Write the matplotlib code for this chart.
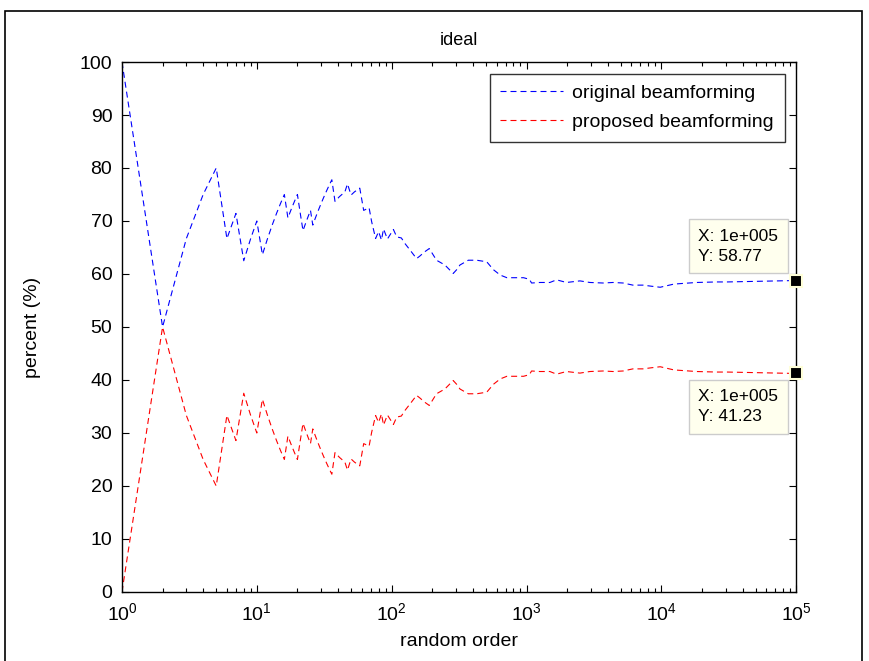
import numpy as np
import matplotlib
matplotlib.use("Agg")
import matplotlib.pyplot as plt
from matplotlib.patches import Rectangle

plt.rcParams['font.family'] = ['Liberation Sans', 'DejaVu Sans']
plt.rcParams['mathtext.fontset'] = 'custom'
plt.rcParams['mathtext.rm'] = 'Liberation Sans'
plt.rcParams['lines.scale_dashes'] = False

# random order index (x) and percentages
order = [1, 2, 3, 4, 5, 6, 7, 8, 9, 10, 11, 12, 13, 14, 15, 16, 17, 18, 19, 20,
         21, 22, 23, 24, 25, 26, 27, 28, 29, 30, 31, 32, 33, 34, 35, 36,
         37, 38, 41, 45, 47, 50, 53, 58, 62, 68, 71, 76, 80, 84, 87, 93,
         103, 109, 118, 125, 137, 153, 162, 176, 190, 201, 215, 248, 286, 303,
         321, 370, 427, 507, 569, 638, 715, 824, 950, 1050, 1090, 1255, 1490,
         1670, 1980, 2490, 2950, 3700, 4380, 5200, 6150, 7300, 8400, 9800,
         12400, 18200, 25700, 30700, 100000]
original = [100, 50, 66.67, 75, 80, 66.67, 71.43, 62.5, 66.67, 70, 63.64, 66.67,
            69.23, 71.43, 73.33, 75, 70.59, 72.22, 73.68, 75, 71.43, 68.18, 69.57,
            70.83, 72, 69.23, 70.37, 71.43, 72.41, 73.33, 74.19, 75, 75.76, 76.47,
            77.14, 77.78, 75.68, 73.7, 74.6, 75.5, 77.0, 74.9, 75.5, 76.2, 72.0,
            72.5, 69.9, 66.7, 68.0, 66.4, 68.5, 66.6, 68.4, 67.0, 66.8, 65.8, 64.5,
            62.9, 63.4, 64.2, 64.8, 63.8, 62.6, 61.7, 60.1, 60.8, 61.7, 62.6, 62.6,
            62.3, 60.8, 59.8, 59.3, 59.3, 59.3, 59.0, 58.3, 58.4, 58.4, 58.9, 58.4,
            58.7, 58.4, 58.3, 58.4, 58.3, 57.9, 57.9, 57.7, 57.5, 58.1, 58.4, 58.5,
            58.5, 58.77]
proposed = [0, 50, 33.33, 25, 20, 33.33, 28.57, 37.5, 33.33, 30, 36.36, 33.33,
            30.77, 28.57, 26.67, 25, 29.41, 27.78, 26.32, 25, 28.57, 31.82, 30.43,
            29.17, 28, 30.77, 29.63, 28.57, 27.59, 26.67, 25.81, 25, 24.24, 23.53,
            22.86, 22.22, 24.32, 26.3, 25.4, 24.5, 23.0, 25.1, 24.5, 23.8, 28.0,
            27.5, 30.1, 33.3, 32.0, 33.6, 31.5, 33.4, 31.6, 33.0, 33.2, 34.2, 35.5,
            37.1, 36.6, 35.8, 35.2, 36.2, 37.4, 38.3, 39.9, 39.2, 38.3, 37.4, 37.4,
            37.7, 39.2, 40.2, 40.7, 40.7, 40.7, 41.0, 41.7, 41.6, 41.6, 41.1, 41.6,
            41.3, 41.6, 41.7, 41.6, 41.7, 42.1, 42.1, 42.3, 42.5, 41.9, 41.6, 41.5,
            41.5, 41.23]

fig = plt.figure(figsize=(8.7, 6.61), dpi=100)
ax = fig.add_axes([0.1402, 0.1044, 0.775, 0.8018])

ax.plot(order, original, color='blue', lw=0.8, ls='--', dashes=(4.3, 2.9),
        label='original beamforming')
ax.plot(order, proposed, color='red', lw=0.8, ls='--', dashes=(4.3, 2.9),
        label='proposed beamforming')

ax.set_xscale('log')
ax.set_xlim(1, 1e5)
ax.set_ylim(0, 100)
ax.set_yticks(np.arange(0, 101, 10))
ax.tick_params(which='both', direction='in', top=True, right=True,
               labelsize=14, colors='black', pad=7)
ax.tick_params(which='major', length=5, width=0.8)
ax.tick_params(which='minor', length=3, width=0.8)
for s in ax.spines.values():
    s.set_linewidth(1.0)

ax.set_title('ideal', fontsize=13, pad=12)
ax.set_xlabel('random order', fontsize=14, labelpad=7)
ax.set_ylabel('percent (%)', fontsize=14, labelpad=28)

leg = ax.legend(loc='upper right', fontsize=14, frameon=True, fancybox=False,
                edgecolor='black', borderaxespad=0.6, handlelength=3.2,
                handletextpad=0.5, borderpad=0.55, labelspacing=0.6)
leg.get_frame().set_linewidth(1.0)

# data tips
for yv, off, va in [(original[-1], 17, 'bottom'), (proposed[-1], -16, 'top')]:
    ax.plot([order[-1]], [yv], marker='s', ms=8.5, mfc='black', mec='#FFFFD8',
            mew=1.5, clip_on=False, zorder=5)
    ax.annotate('X: 1e+005\nY: %.2f' % yv, xy=(order[-1], yv),
                xytext=(-18, off), textcoords='offset pixels',
                ha='right', va=va, multialignment='left', fontsize=12.5,
                linespacing=1.4,
                bbox=dict(boxstyle='square,pad=0.55', fc='#FFFFEE',
                          ec='#CCCCCC', lw=1.0),
                annotation_clip=False, zorder=6)

# outer frame of the figure
fig.patches.append(Rectangle((5 / 870, -0.02), 857 / 870, 1.02 - 11 / 661,
                             transform=fig.transFigure, fill=False,
                             ec='black', lw=1.2))

fig.savefig('out.png', dpi=100)
